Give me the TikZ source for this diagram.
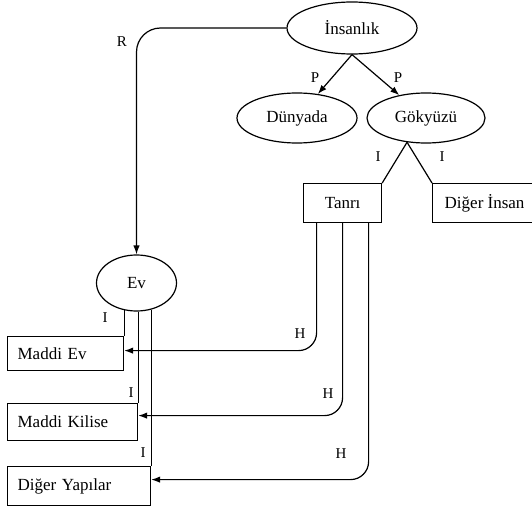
\documentclass[tikz,border=0pt]{standalone}
\usepackage{fontspec}
\setmainfont{Liberation Serif}
\usetikzlibrary{shapes.geometric,arrows.meta,calc}
\begin{document}
\begin{tikzpicture}[x=1pt,y=-1pt,
  every node/.style={font=\fontsize{17}{20}\selectfont},
  ell/.style={draw, ellipse, inner sep=0pt, line width=1.2pt},
  box/.style={draw, rectangle, inner sep=0pt, line width=1.2pt},
  lbox/.style={box, align=left, inner xsep=10pt},
  conn/.style={line width=1.2pt},
  arr/.style={conn, -{Latex[length=9pt,width=6.5pt]}},
  lab/.style={inner sep=0pt, font=\fontsize{15}{17}\selectfont}]
\useasboundingbox (0,0) rectangle (532,508);
% ellipses
\node[ell, minimum width=130, minimum height=52] (ins) at (352,28) {İnsanlık};
\node[ell, minimum width=120, minimum height=50] (dun) at (297,118) {Dünyada};
\node[ell, minimum width=118, minimum height=50] (gok) at (426,118) {Gökyüzü};
\node[ell, minimum width=80, minimum height=56] (ev) at (136.5,283) {Ev};
% boxes
\node[box, anchor=north west, minimum width=78, minimum height=39] (tan) at (303,183) {Tanrı};
\node[box, anchor=north west, minimum width=104, minimum height=39] (din) at (432,183) {Diğer İnsan};
\node[lbox, anchor=north west, minimum width=116, minimum height=34, text width=96] (mev) at (7,336) {Maddi Ev};
\node[lbox, anchor=north west, minimum width=130, minimum height=37, text width=110] (mkil) at (7,403) {Maddi Kilise};
\node[lbox, anchor=north west, minimum width=143, minimum height=39, text width=123] (dyap) at (7,466) {Diğer Yapılar};
% P arrows
\draw[arr] (ins.south) -- (dun);
\draw[arr] (ins.south) -- (gok);
\node[lab] (p1) at (315,78) {P};
\node[lab] (p2) at (398,78) {P};
% R
\draw[arr, rounded corners=24pt] (ins.west) -| (ev.north);
\node[lab] (r) at (122,42) {R};
% Gokyuzu to boxes
\coordinate (apex) at (gok.232);
\draw[conn] (tan.north east) -- (apex) -- (din.north west);
\node[lab] (i1) at (378,157) {I};
\node[lab] (i2) at (442,157) {I};
% Ev to boxes
\draw[conn] (mev.north east) -- (mev.north east |- ev.243);
\draw[conn] (mkil.north east) -- (mkil.north east |- ev.south);
\draw[conn] (dyap.north east) -- (dyap.north east |- ev.297);
\node[lab] (i3) at (105,318) {I};
\node[lab] (i4) at (131,393) {I};
\node[lab] (i5) at (143,453) {I};
% Tanri to boxes
\draw[arr, rounded corners=18pt] ([xshift=-26pt]tan.south) |- ([yshift=3pt]mev.east);
\draw[arr, rounded corners=18pt] (tan.south) |- ([yshift=6.5pt]mkil.east);
\draw[arr, rounded corners=18pt] ([xshift=26pt]tan.south) |- ([yshift=6.5pt]dyap.east);
\node[lab] (h1) at (300,334) {H};
\node[lab] (h2) at (328,394) {H};
\node[lab] (h3) at (341,454) {H};
\end{tikzpicture}
\end{document}
